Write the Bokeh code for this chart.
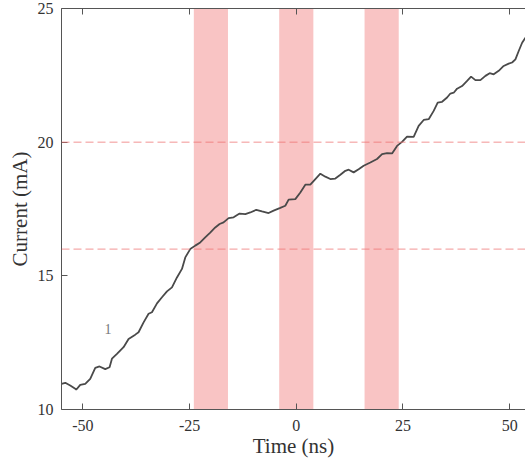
from bokeh.plotting import figure
from bokeh.models import Span, Range1d, LinearAxis, FixedTicker, Label
from bokeh.embed import file_html
from bokeh.resources import INLINE

# ---- data ----
time_ns = [-55.0, -54.12, -52.95, -51.78, -51.56, -50.61, -49.44, -48.27, -47.09, -46.09,
           -44.75, -43.74, -43.18, -42.01, -40.46, -39.29, -37.72, -36.95, -35.77, -34.60,
           -33.81, -32.63, -31.46, -30.29, -29.12, -27.95, -26.78, -26.0, -24.84, -23.67,
           -22.50, -21.33, -20.16, -18.98, -17.96, -17.03, -15.85, -14.68, -13.28, -11.94,
           -10.77, -9.36, -8.03, -6.48, -5.31, -3.74, -2.57, -1.79, -0.22, 0.95,
           2.12, 3.29, 4.47, 5.64, 6.81, 7.98, 9.15, 10.33, 11.50, 12.27,
           13.44, 14.61, 15.78, 17.35, 18.92, 20.10, 21.27, 22.44, 23.61, 24.78,
           25.95, 27.50, 28.67, 29.85, 31.02, 32.19, 33.13, 34.16, 35.33, 36.10,
           36.88, 37.67, 38.84, 40.02, 40.95, 41.96, 43.13, 44.31, 45.31, 46.25,
           47.42, 48.59, 49.77, 50.56, 51.34, 52.11, 52.91, 53.68]
current_ma = [10.96, 11.00, 10.90, 10.78, 10.74, 10.92, 10.96, 11.15, 11.56, 11.61,
              11.51, 11.58, 11.90, 12.08, 12.33, 12.64, 12.80, 12.89, 13.26, 13.58,
              13.64, 13.97, 14.20, 14.42, 14.57, 14.94, 15.26, 15.69, 16.00, 16.13,
              16.25, 16.44, 16.62, 16.81, 16.94, 17.00, 17.16, 17.19, 17.33, 17.31,
              17.37, 17.47, 17.41, 17.35, 17.44, 17.54, 17.62, 17.85, 17.87, 18.12,
              18.41, 18.41, 18.62, 18.82, 18.71, 18.62, 18.64, 18.78, 18.93, 18.97,
              18.87, 18.99, 19.12, 19.24, 19.37, 19.55, 19.59, 19.58, 19.86, 20.01,
              20.21, 20.20, 20.61, 20.83, 20.86, 21.17, 21.48, 21.51, 21.67, 21.82,
              21.85, 22.00, 22.10, 22.29, 22.45, 22.32, 22.32, 22.48, 22.58, 22.54,
              22.67, 22.85, 22.94, 22.98, 23.10, 23.41, 23.72, 23.91]

band_starts = [-24, -4, 16]
band_ends = [-16, 4, 24]
threshold_levels = [16, 20]
x_ticks = [-50, -25, 0, 25, 50]
x_tick_labels = ["-50", "-25", "0", "25", "50"]
y_ticks = [10, 15, 20, 25]
y_tick_labels = ["10", "15", "20", "25"]
annotation_text = "1"
annotation_x = -44.1
annotation_y = 13.0

FONT = "Liberation Serif"
AXIS_COLOR = "#555555"
TEXT_COLOR = "#333333"

p = figure(width=525, height=460, output_backend="svg", toolbar_location=None,
           x_range=Range1d(-55, 53.7), y_range=Range1d(10, 25),
           x_axis_label="Time (ns)", y_axis_label="Current (mA)",
           min_border_left=61, min_border_right=0, min_border_top=8, min_border_bottom=51)
p.outline_line_color = None
p.grid.visible = False
p.background_fill_color = "white"
p.border_fill_color = "white"

for ax, ticks, labels in ((p.xaxis[0], x_ticks, x_tick_labels),
                          (p.yaxis[0], y_ticks, y_tick_labels)):
    ax.ticker = FixedTicker(ticks=ticks)
    ax.major_label_overrides = {t: s for t, s in zip(ticks, labels)}
    ax.major_tick_in = 6
    ax.major_tick_out = 0
    ax.minor_tick_in = 0
    ax.minor_tick_out = 0
    ax.axis_line_color = AXIS_COLOR
    ax.major_tick_line_color = AXIS_COLOR
    ax.major_label_text_font = FONT
    ax.major_label_text_font_size = "16px"
    ax.major_label_text_color = TEXT_COLOR
    ax.axis_label_text_font = FONT
    ax.axis_label_text_font_size = "21px"
    ax.axis_label_text_font_style = "normal"
    ax.axis_label_text_color = TEXT_COLOR

p.xaxis[0].major_label_standoff = 10
p.xaxis[0].axis_label_standoff = 0
p.yaxis[0].major_label_standoff = 8
p.yaxis[0].axis_label_standoff = 3

# top axis: spine + inward ticks, labels hidden
top = LinearAxis(ticker=FixedTicker(ticks=x_ticks))
top.major_tick_in = 6
top.major_tick_out = 0
top.minor_tick_in = 0
top.minor_tick_out = 0
top.axis_line_color = AXIS_COLOR
top.major_tick_line_color = AXIS_COLOR
top.major_label_text_color = None
top.major_label_text_font_size = "1px"
top.major_label_standoff = 0
p.add_layout(top, "above")

# shaded bands
p.quad(left=band_starts, right=band_ends, bottom=10, top=25,
       fill_color="#f9c4c4", line_color=None)

# threshold dashed lines
for lvl in threshold_levels:
    p.add_layout(Span(location=lvl, dimension="width", line_color="#ee7070",
                      line_alpha=0.75, line_dash="8 4", line_width=1))

# curve
p.line(time_ns, current_ma, line_color="#4a4a4a", line_width=1.8)

p.add_layout(Label(x=annotation_x, y=annotation_y, text=annotation_text,
                   text_font=FONT, text_font_size="14px", text_color="#777777",
                   text_align="center", text_baseline="middle"))

open("out.html", "w").write(file_html(p, INLINE))
